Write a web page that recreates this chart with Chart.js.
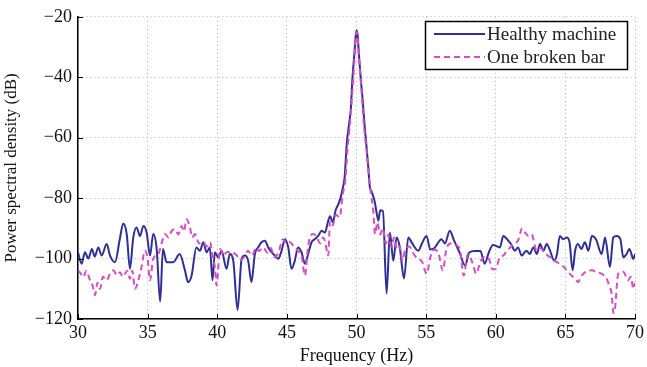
<!DOCTYPE html>
<html>
<head>
<meta charset="utf-8">
<script src="https://cdn.jsdelivr.net/npm/chart.js@4.4.1/dist/chart.umd.min.js"></script>
<style>
  html, body { margin: 0; padding: 0; background: #fff; }
  #wrap { width: 647px; height: 367px; position: relative; }
</style>
</head>
<body>
<div id="wrap"><canvas id="c"></canvas></div>
<script>
// ---- data ----
const xTicks = [30, 35, 40, 45, 50, 55, 60, 65, 70];
const yTicks = [-120, -100, -80, -60, -40, -20];
const seriesNames = ['Healthy machine', 'One broken bar'];

const healthyFreq = [
  30.0, 30.26, 30.5, 30.74, 31.0, 31.2, 31.46, 31.7, 32.06, 32.3, 32.66, 33.0, 33.25, 33.5, 33.73, 33.97,
  34.2, 34.45, 34.7, 34.93, 35.17, 35.4, 35.65, 35.9, 36.1, 36.36, 36.84, 37.3, 37.68, 37.9, 38.16, 38.5,
  38.76, 39.0, 39.23, 39.47, 39.66, 39.83, 40.07, 40.31, 40.67, 40.9, 41.15, 41.46, 41.75, 41.99, 42.22,
  42.46, 42.7, 42.94, 43.18, 43.42, 43.66, 43.9, 44.14, 44.38, 44.62, 44.86, 45.1, 45.33, 45.57, 45.8,
  46.05, 46.29, 46.5, 46.77, 47.0, 47.25, 47.5, 47.73, 47.97,
  48.1, 48.3, 48.5, 48.7, 48.85, 49.0, 49.15, 49.3, 49.45, 49.6, 49.7, 49.85, 49.95, 50.0, 50.08, 50.18,
  50.3, 50.45, 50.6, 50.7, 50.85, 50.95, 51.1, 51.3, 51.45, 51.57, 51.7, 51.9, 52.16, 52.4, 52.64, 52.88,
  53.1, 53.41, 53.72, 54.0, 54.44, 54.7, 55.03, 55.3, 55.6, 56.1, 56.35, 56.7, 57.0, 57.4, 57.8, 58.1,
  58.5, 58.9, 59.2, 59.5, 59.8,
  60.3, 60.54, 60.9, 61.1, 61.38, 61.6, 61.86, 62.2, 62.45, 62.7, 62.95, 63.18, 63.42, 63.66, 63.9, 64.2,
  64.4, 64.6, 64.85, 65.1, 65.3, 65.52, 65.7, 65.9, 66.15, 66.4, 66.65, 66.9, 67.2, 67.6, 67.75, 67.85,
  68.2, 68.44, 68.7, 68.95, 69.16, 69.4, 69.6, 69.88, 70.0
];
const healthyPSD = [
  -97.9, -101.7, -97.9, -100, -96.8, -99.3, -96.3, -99, -95.2, -99, -101.2, -93.6, -88.4, -91.9, -103.4, -93,
  -89.7, -92.5, -89.2, -91.4, -99, -91.9, -96.8, -114.3, -96.8, -101.2, -101.2, -98.5, -103.9, -107.8, -105.6, -96.3,
  -97.4, -94.6, -97.9, -96.3, -107.2, -97.9, -99.6, -97.4, -103.4, -98.5, -100.7, -117, -100.1, -99, -100.7,
  -107.8, -98.5, -96.3, -94.6, -94.1, -96.3, -97.9, -99, -100.1, -97.4, -93.6, -96.3, -103.4, -100.7, -96.3,
  -97.9, -101.7, -99, -94.6, -93.6, -92.5, -90.8, -91.4, -87.5,
  -86, -88, -84, -82, -80, -77, -73, -62, -56, -50, -41, -32, -26, -24.5, -26, -33,
  -40, -48, -57, -62, -70, -76, -78, -81, -85, -87.5, -84, -84.3, -111.6, -91.4, -100.7, -93,
  -96, -106.6, -93, -95, -97.4, -95, -92.5, -97, -96.5, -93.6, -95, -90.8, -94, -98, -102.3, -98,
  -97.5, -97.5, -101.7, -98, -95.5,
  -96.3, -92.5, -94.1, -95.2, -97.4, -96.3, -99, -97.4, -98.5, -96.3, -98.5, -95.2, -97.4, -95.2, -97.4, -100.7,
  -98.5, -92.5, -93.6, -93, -94.6, -103.9, -97.4, -95.2, -96.8, -94.6, -97.4, -92.5, -93.6, -98.5, -95.2, -93,
  -102.8, -93, -92.5, -93.6, -99.6, -98.5, -96.8, -100.1, -98.5
];

const brokenFreq = [
  30.0, 30.2, 30.38, 30.6, 30.86, 31.05, 31.22, 31.4, 31.58, 31.8, 32.06, 32.3, 32.54, 32.8, 33.02, 33.2,
  33.38, 33.55, 33.73, 33.9, 34.09, 34.33, 34.55, 34.81, 35.0, 35.17, 35.4, 35.77, 36.0, 36.25, 36.5, 36.7,
  36.96, 37.2, 37.44, 37.6, 37.8, 38.04, 38.2, 38.4, 38.7, 39.0, 39.25, 39.48, 39.7, 39.84, 39.95, 40.2,
  40.45, 40.7, 41.1, 41.4, 41.7, 42.0, 42.2, 42.5, 42.8, 43.0, 43.3, 43.6, 43.85, 44.1, 44.4, 44.7,
  44.95, 45.2, 45.5, 45.8, 46.05, 46.3, 46.5, 46.65, 46.9, 47.1, 47.4, 47.6, 47.73, 47.97,
  48.1, 48.3, 48.5, 48.8, 49.0, 49.2, 49.35, 49.5, 49.65, 49.78, 49.9, 50.0, 50.1, 50.22, 50.35, 50.5,
  50.62, 50.78, 50.9, 51.05, 51.2, 51.33, 51.5, 51.7, 51.9, 52.1, 52.3, 52.5, 52.7, 52.9, 53.1, 53.3,
  53.5, 53.8, 54.1, 54.4, 54.7, 55.04, 55.3, 55.6, 55.9, 56.2, 56.45, 56.75, 57.05, 57.4, 57.7, 58.0,
  58.3, 58.6, 58.9, 59.2, 59.5, 59.75, 59.97, 60.3, 60.55, 60.78, 61.0, 61.26, 61.6, 61.9, 62.1, 62.35,
  62.58, 62.93, 63.2, 63.5, 63.9, 64.15, 64.4, 64.65, 64.9, 65.2, 65.45, 65.7, 65.93, 66.1, 66.3, 66.6,
  66.9, 67.24, 67.6, 67.95, 68.15, 68.32, 68.45, 68.55, 68.8, 69.16, 69.5, 69.7, 69.88, 70.0
];
const brokenPSD = [
  -103.9, -105, -106.1, -104, -107.2, -109, -112.1, -108, -110, -106, -107.2, -105, -103.9, -105.5, -104.5, -106,
  -105, -104, -106.7, -104, -110, -107.2, -103, -97.4, -100, -107.2, -100, -98.5, -95, -91.9, -93, -91,
  -90.3, -92, -89.2, -91, -87, -89.8, -93, -91.9, -95, -94.6, -96, -94.6, -100, -103, -108.9, -96.8,
  -99, -97.8, -97.9, -99, -100.5, -99, -97.4, -99, -96.3, -97.5, -96.3, -98, -96.5, -99.5, -98, -93.6,
  -95, -94.5, -96, -97.5, -99, -105.6, -97, -93, -91.9, -92.5, -95, -93, -94.1, -99,
  -87.5, -89, -85.5, -86.3, -79, -74, -64, -57, -48, -40, -30, -25, -28, -36, -44, -54,
  -60, -67, -73, -79, -84, -91.9, -88, -92, -90, -95, -92, -96, -93, -97, -96, -100.7,
  -97, -96, -98.5, -100, -101, -105, -99.6, -97, -98.5, -103.9, -97, -95, -95.5, -96.5, -105.6, -98.5,
  -101, -105, -101, -99.5, -100, -103.5, -103.5, -99.5, -99, -97.4, -96.5, -95.2, -94, -90, -91.4, -92.5,
  -92, -97.4, -96.5, -98, -99.6, -100.5, -101.2, -102, -102.8, -104.5, -105.6, -106.7, -107.8, -106, -105, -104,
  -103.9, -104.5, -105, -106.5, -109, -111.6, -118, -117, -105, -104.4, -107.2, -106, -110, -108
];

// ---- styles ----
const BLUE = '#2f2f9a';
const PINK = '#d94cc4';
const FONT = "'Liberation Serif', 'Times New Roman', serif";

const toPts = (xs, ys) => xs.map((x, i) => ({ x: x, y: ys[i] }));

const innerTicks = {
  id: 'innerTicks',
  afterDraw(chart) {
    const { ctx, chartArea: a, scales: { x, y } } = chart;
    ctx.save();
    ctx.strokeStyle = '#000';
    ctx.lineWidth = 1;
    ctx.beginPath();
    xTicks.forEach(t => {
      const px = Math.round(x.getPixelForValue(t)) + 0.5;
      ctx.moveTo(px, a.bottom); ctx.lineTo(px, a.bottom - 5);
    });
    yTicks.forEach(t => {
      const py = Math.round(y.getPixelForValue(t)) + 0.5;
      ctx.moveTo(a.left, py); ctx.lineTo(a.left + 5, py);
    });
    ctx.stroke();
    ctx.restore();
  }
};

const boxLegend = {
  id: 'boxLegend',
  afterDraw(chart) {
    const { ctx } = chart;
    const bx = 425.5, by = 21.5, bw = 202, bh = 48;
    ctx.save();
    ctx.fillStyle = '#fff';
    ctx.fillRect(bx, by, bw, bh);
    ctx.strokeStyle = '#000';
    ctx.lineWidth = 1.5;
    ctx.strokeRect(bx, by, bw, bh);
    const ds = chart.data.datasets;
    const rows = [34, 57];
    ds.forEach((d, i) => {
      ctx.beginPath();
      ctx.strokeStyle = d.borderColor;
      ctx.lineWidth = d.borderWidth;
      ctx.setLineDash(d.borderDash || []);
      ctx.moveTo(434, rows[i]); ctx.lineTo(485, rows[i]);
      ctx.stroke();
      ctx.setLineDash([]);
      ctx.fillStyle = '#222';
      ctx.font = "19px " + FONT;
      ctx.textBaseline = 'middle';
      ctx.textAlign = 'left';
      ctx.fillText(d.label, 487, rows[i] + 1);
    });
    ctx.restore();
  }
};

new Chart(document.getElementById('c'), {
  type: 'line',
  data: {
    datasets: [
      {
        label: seriesNames[0],
        data: toPts(healthyFreq, healthyPSD),
        borderColor: BLUE,
        borderWidth: 2,
        pointRadius: 0,
        cubicInterpolationMode: 'monotone',
        order: 1
      },
      {
        label: seriesNames[1],
        data: toPts(brokenFreq, brokenPSD),
        borderColor: PINK,
        borderWidth: 2,
        borderDash: [6, 4],
        pointRadius: 0,
        cubicInterpolationMode: 'monotone',
        order: 0
      }
    ]
  },
  options: {
    responsive: true,
    maintainAspectRatio: false,
    animation: false,
    layout: { padding: { left: 0, top: 14, right: 12, bottom: 0 } },
    plugins: { legend: { display: false }, tooltip: { enabled: false } },
    scales: {
      x: {
        type: 'linear',
        min: 30, max: 70,
        afterBuildTicks: s => { s.ticks = xTicks.map(v => ({ value: v })); },
        afterFit: s => { s.height = 48; },
        ticks: { font: { family: FONT, size: 18 }, color: '#111', padding: 3, maxRotation: 0 },
        grid: { color: '#b8b8b8', lineWidth: 1, drawTicks: false },
        border: { display: true, color: '#000', width: 1.5, dash: [1, 3] },
        title: { display: true, text: 'Frequency (Hz)', font: { family: FONT, size: 18 }, color: '#111', padding: { top: 0, bottom: 0 } }
      },
      y: {
        type: 'linear',
        min: -120, max: -20,
        afterBuildTicks: s => { s.ticks = yTicks.map(v => ({ value: v })); },
        afterFit: s => { s.width = 78; },
        ticks: {
          font: { family: FONT, size: 18 }, color: '#111', padding: 6,
          callback: v => String(v).replace('-', '\u2212')
        },
        grid: { color: '#b8b8b8', lineWidth: 1, drawTicks: false },
        border: { display: true, color: '#000', width: 1.5, dash: [1, 3] },
        title: { display: true, text: 'Power spectral density (dB)', font: { family: FONT, size: 17 }, color: '#111', padding: { top: 1, bottom: 0 } }
      }
    }
  },
  plugins: [innerTicks, boxLegend]
});
</script>
</body>
</html>
